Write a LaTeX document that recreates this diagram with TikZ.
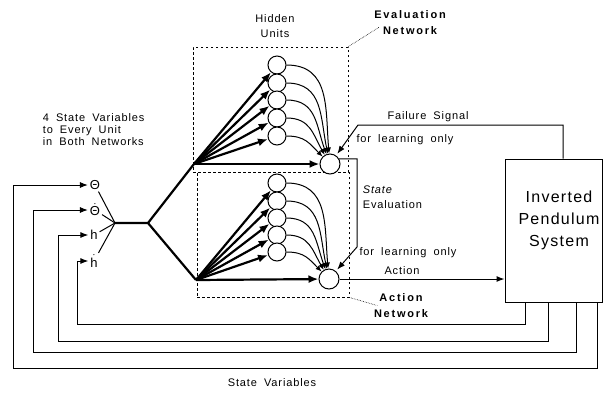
\documentclass[tikz,border=0pt]{standalone}
\usepackage{amsmath}
\usepackage{fontspec}
\setmainfont{Liberation Sans}[LetterSpace=8,WordSpace=1.8]
\newfontfamily\netfont{Liberation Sans}[LetterSpace=16,WordSpace=1.5]
\usetikzlibrary{arrows.meta,positioning}

\begin{document}
\begin{tikzpicture}[-,>={Latex[length=8pt,width=6pt]},x=1pt,y=-1pt,
                    line width=1pt,font=\fontsize{11}{15}\selectfont]
  \tikzstyle{unit}=[circle,draw,fill=white,minimum size=18pt,inner sep=0pt]
  \tikzstyle{net}=[draw,dash pattern=on 2.5pt off 2.5pt,line width=0.9pt]
  \tikzstyle{heavy}=[line width=2.2pt,-{Latex[length=10pt,width=8pt]}]
  \tikzstyle{arc}=[-{Latex[length=6pt,width=5pt]},looseness=1.15]
  \tikzstyle{leader}=[densely dotted,line width=0.6pt]
  \tikzstyle{netlabel}=[font=\netfont\bfseries\fontsize{11}{16}\selectfont,align=center]
  \tikzstyle{var}=[font=\fontsize{13}{15}\selectfont,inner sep=1.5pt]

  \useasboundingbox (0,0) rectangle (603,392);

  % the two networks
  \node[net,minimum width=155pt,minimum height=125pt] (evalnet) at (270.5,109.5) {};
  \node[net,minimum width=152pt,minimum height=125pt] (actnet)  at (273,234.5) {};

  \foreach \i/\y in {1/65,2/83,3/100,4/118,5/136}
    \node[unit] (e\i) at (277,\y) {};
  \node[unit,minimum size=20pt] (eout) at (330,164) {};
  \foreach \i/\y in {1/183,2/201,3/218,4/235,5/252}
    \node[unit] (a\i) at (277,\y) {};
  \node[unit,minimum size=20pt] (aout) at (329,279) {};

  \node (hidden) at (275,26) [align=center] {Hidden\\Units};
  \node[netlabel] (evallab) at (410,23) {Evaluation\\Network};
  \node[netlabel] (actlab)  at (401,305.5) {Action\\Network};
  \draw[leader] (evalnet.north east) -- ([xshift=9pt,yshift=-4pt]evallab.west);
  \draw[leader] (actnet.south east) -- ([xshift=7pt]actlab.west);

  % state variables
  \node[var] (th)  at (95,185) {Θ};
  \node[var] (thd) at (95,210) {$\dot{\text{Θ}}$};
  \node[var] (h)   at (94,235) {h};
  \node[var] (hd)  at (94,261) {$\dot{\text{h}}$};
  \node[align=left,anchor=west,font=\fontsize{11}{12}\selectfont] (fourvars) at (39,130)
    {4 State Variables\\to Every Unit\\in Both Networks};

  \coordinate (junc)  at (115,223);
  \coordinate (split) at (148,223);
  \coordinate (fanE)  at (194,164);
  \coordinate (fanA)  at (196,280);

  \foreach \s in {th,thd,h,hd}
    \draw (\s) -- (junc);
  \draw[line width=2.2pt] (junc) -- (split) -- (fanE);
  \draw[line width=2.2pt] (split) -- (fanA);

  % input to hidden units and output units
  \foreach \i in {1,...,5} {
    \draw[heavy] (fanE) -- (e\i);
    \draw[heavy] (fanA) -- (a\i);
  }
  \draw[heavy] (fanE) -- (eout);
  \draw[heavy] (fanA) -- (aout);
  \foreach \i/\a in {1/95,2/102,3/110,4/120,5/135} {
    \draw[arc] (e\i) to[out=0,in=\a] (eout);
    \draw[arc] (a\i) to[out=0,in=\a] (aout);
  }

  % the plant
  \node[draw,minimum width=97pt,minimum height=143pt] (IPS) at (553.5,230.5) {};
  \node[font=\fontsize{16}{22}\selectfont,align=center] (ipstxt) at (559,220)
    {Inverted\\Pendulum\\System};

  \coordinate (fb) at (358,125);
  \coordinate (sb) at (357,247);
  \draw[->,shorten >=2pt] ([xshift=9.5pt]IPS.north) |- (fb) -- (eout);
  \draw[->,shorten >=2pt] (eout.30) -| (sb) -- (aout);
  \draw[->] (aout) -- (aout -| IPS.west);

  \node (failtxt)  at (428,117) {Failure Signal};
  \node (learn1)   at (405,140) {for learning only};
  \node (learn2)   at (408,253) {for learning only};
  \node (actiontxt) at (402,271) {Action};
  \node[align=left,anchor=west] (statetxt) at (359,197.5) {\textsl{State}\\Evaluation};

  % feedback of the state variables
  \foreach \d/\sx/\lx/\by in {th/5/13/368,thd/26/33/352,h/54/58/341,hd/77/77/324}
    \draw[->] ([xshift=-\sx pt]IPS.south east) |- (\lx,\by) |- (\d);
  \node (sysvars) at (272,383) {State Variables};

\end{tikzpicture}
\end{document}
